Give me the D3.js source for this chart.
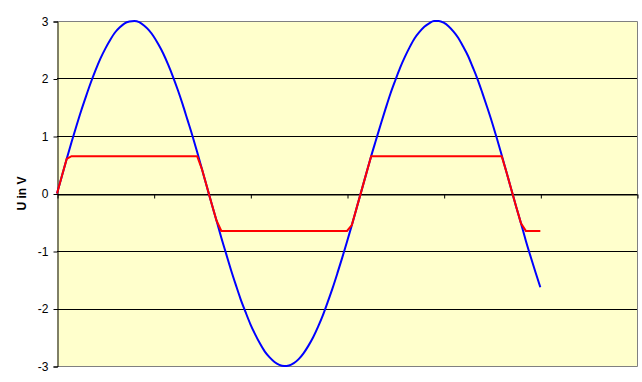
<!DOCTYPE html>
<html>
<head>
<meta charset="utf-8">
<script src="https://cdn.jsdelivr.net/npm/d3@7"></script>
<style>
  body { margin: 0; background: #fff; }
  svg { display: block; font-family: Arial, "Liberation Sans", sans-serif; }
</style>
</head>
<body>
<svg width="642" height="382"></svg>
<script>
  // time axis (no labels on the chart), step 0.05
  var tValues = d3.range(0, 101).map(function(i) { return +(i * 0.05).toFixed(2); });
  // input voltage (blue)
  var uIn = [0, 0.30, 0.60, 0.89, 1.17, 1.44, 1.69, 1.93, 2.15, 2.35,
    2.52, 2.67, 2.80, 2.89, 2.96, 2.99, 3.00, 2.98, 2.92, 2.84,
    2.73, 2.59, 2.43, 2.24, 2.03, 1.80, 1.55, 1.28, 1.01, 0.72,
    0.42, 0.12, -0.18, -0.47, -0.77, -1.05, -1.33, -1.59, -1.84, -2.06,
    -2.27, -2.45, -2.61, -2.75, -2.85, -2.93, -2.98, -3.00, -2.99, -2.95,
    -2.88, -2.78, -2.65, -2.50, -2.32, -2.12, -1.89, -1.65, -1.39, -1.12,
    -0.84, -0.55, -0.25, 0.05, 0.35, 0.65, 0.93, 1.21, 1.48, 1.74,
    1.97, 2.19, 2.38, 2.55, 2.70, 2.81, 2.90, 2.96, 3.00, 3.00,
    2.97, 2.91, 2.82, 2.71, 2.56, 2.40, 2.20, 1.99, 1.75, 1.50,
    1.24, 0.96, 0.67, 0.37, 0.07, -0.23, -0.52, -0.82, -1.10, -1.37, -1.63];
  // clipped output voltage (red)
  var uOut = [0, 0.30, 0.60, 0.65, 0.65, 0.65, 0.65, 0.65, 0.65, 0.65,
    0.65, 0.65, 0.65, 0.65, 0.65, 0.65, 0.65, 0.65, 0.65, 0.65,
    0.65, 0.65, 0.65, 0.65, 0.65, 0.65, 0.65, 0.65, 0.65, 0.65,
    0.42, 0.12, -0.18, -0.47, -0.65, -0.65, -0.65, -0.65, -0.65, -0.65,
    -0.65, -0.65, -0.65, -0.65, -0.65, -0.65, -0.65, -0.65, -0.65, -0.65,
    -0.65, -0.65, -0.65, -0.65, -0.65, -0.65, -0.65, -0.65, -0.65, -0.65,
    -0.65, -0.55, -0.25, 0.05, 0.35, 0.65, 0.65, 0.65, 0.65, 0.65,
    0.65, 0.65, 0.65, 0.65, 0.65, 0.65, 0.65, 0.65, 0.65, 0.65,
    0.65, 0.65, 0.65, 0.65, 0.65, 0.65, 0.65, 0.65, 0.65, 0.65,
    0.65, 0.65, 0.65, 0.37, 0.07, -0.23, -0.52, -0.65, -0.65, -0.65, -0.65];
  var yTicks = [-3, -2, -1, 0, 1, 2, 3];
  var xTicks = [0, 1, 2, 3, 4, 5, 6];

  var svg = d3.select("svg");
  var x = d3.scaleLinear().domain([0, 6]).range([57, 637]);
  var y = d3.scaleLinear().domain([-3, 3]).range([366, 21]);

  // plot area
  svg.append("rect")
    .attr("x", x(0)).attr("y", y(3))
    .attr("width", x(6) - x(0)).attr("height", y(-3) - y(3))
    .attr("fill", "#FFFFCC");

  // grid lines
  svg.append("g").selectAll("line")
    .data(yTicks.filter(function(d) { return d > -3 && d < 3; }))
    .enter().append("line")
      .attr("x1", x(0)).attr("x2", x(6))
      .attr("y1", function(d) { return Math.round(y(d)) + 0.5; })
      .attr("y2", function(d) { return Math.round(y(d)) + 0.5; })
      .attr("stroke", "#000").attr("stroke-width", 1);

  // gray border (top, right, bottom)
  svg.append("path")
    .attr("d", "M" + x(0) + "," + (y(3) + 0.5) + "H" + (x(6) + 0.5) + "V" + (y(-3) + 0.5) + "H" + x(0))
    .attr("fill", "none").attr("stroke", "#808080").attr("stroke-width", 1);

  // y axis
  var yAxis = svg.append("g")
    .attr("transform", "translate(" + (x(0) + 0.5) + ",0.5)")
    .call(d3.axisLeft(y).tickValues(yTicks).tickSize(4).tickPadding(5)
      .tickFormat(function(d) { return String(d); }));
  yAxis.select(".domain").attr("stroke", "#000");
  yAxis.selectAll(".tick line").attr("stroke", "#000");
  yAxis.selectAll("text").attr("font-size", 12).attr("fill", "#000")
    .attr("font-family", "Arial, 'Liberation Sans', sans-serif");

  // x axis at zero, tick marks only
  var xAxis = svg.append("g")
    .attr("transform", "translate(0.5," + (Math.round(y(0)) + 0.5) + ")")
    .call(d3.axisBottom(x).tickValues(xTicks).tickSize(4).tickSizeOuter(0).tickFormat(""));
  xAxis.select(".domain").attr("stroke", "#000");
  xAxis.selectAll(".tick line").attr("stroke", "#000");

  // axis title
  svg.append("text")
    .attr("transform", "translate(26," + y(0) + ") rotate(-90)")
    .attr("text-anchor", "middle")
    .attr("font-size", 12).attr("font-weight", "bold")
    .text("U in V");

  var line = d3.line()
    .x(function(d) { return x(d[0]); })
    .y(function(d) { return y(d[1]); })
    .curve(d3.curveMonotoneX);

  svg.append("path")
    .datum(tValues.map(function(t, i) { return [t, uIn[i]]; }))
    .attr("d", line)
    .attr("fill", "none").attr("stroke", "#0000FF").attr("stroke-width", 2);

  svg.append("path")
    .datum(tValues.map(function(t, i) { return [t, uOut[i]]; }))
    .attr("d", d3.line().x(function(d) { return x(d[0]); }).y(function(d) { return y(d[1]); }))
    .attr("fill", "none").attr("stroke", "#FF0000").attr("stroke-width", 2);
</script>
</body>
</html>
